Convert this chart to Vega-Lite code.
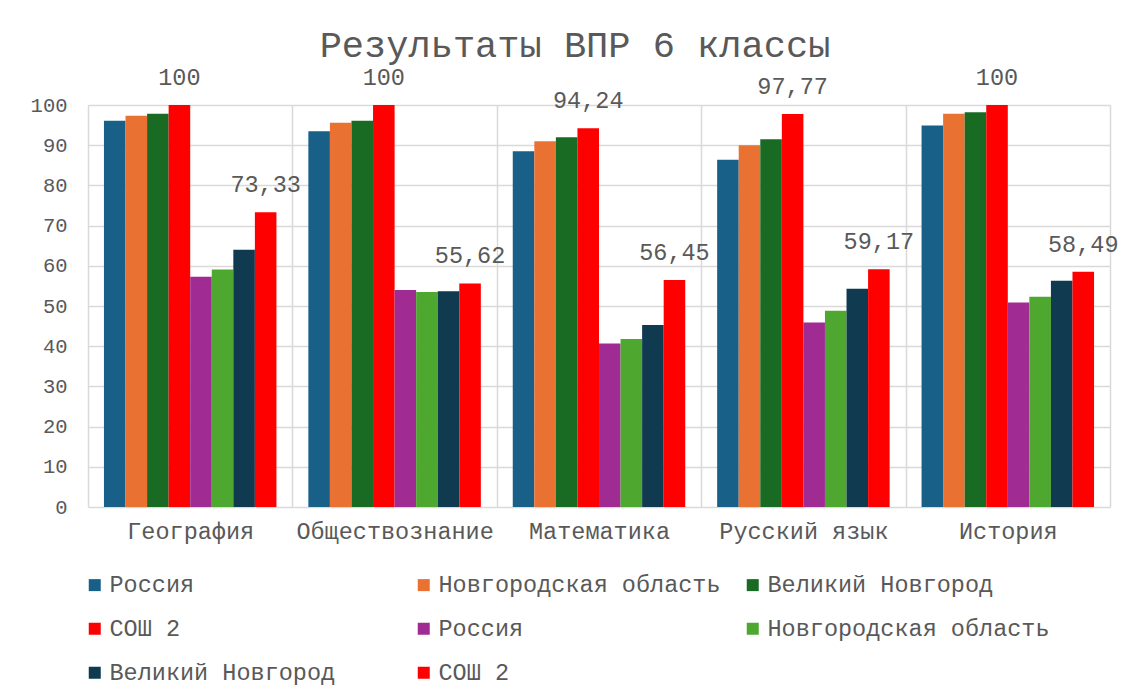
{
  "$schema": "https://vega.github.io/schema/vega-lite/v6.json",
  "width": 1022,
  "height": 402,
  "autosize": {"type": "none"},
  "padding": {"left": 88, "top": 105, "right": 21, "bottom": 193},
  "background": "white",
  "title": {
    "text": "Результаты ВПР 6 классы",
    "fontSize": 37,
    "font": "Liberation Mono",
    "fontWeight": "normal",
    "color": "#595959",
    "anchor": "middle",
    "dx": -24,
    "offset": 1
  },
  "config": {
    "locale": {"number": {"decimal": ",", "thousands": " ", "grouping": [3], "currency": ["", ""]}},
    "font": "Liberation Mono",
    "view": {"stroke": null}
  },
  "data": {
    "values": [
      {"subject": "География", "series": "1", "value": 96.1},
      {"subject": "География", "series": "2", "value": 97.3},
      {"subject": "География", "series": "3", "value": 97.8},
      {"subject": "География", "series": "4", "value": 100},
      {"subject": "География", "series": "5", "value": 57.3},
      {"subject": "География", "series": "6", "value": 59.1},
      {"subject": "География", "series": "7", "value": 64.0},
      {"subject": "География", "series": "8", "value": 73.33},
      {"subject": "Обществознание", "series": "1", "value": 93.5},
      {"subject": "Обществознание", "series": "2", "value": 95.6},
      {"subject": "Обществознание", "series": "3", "value": 96.1},
      {"subject": "Обществознание", "series": "4", "value": 100},
      {"subject": "Обществознание", "series": "5", "value": 54.0},
      {"subject": "Обществознание", "series": "6", "value": 53.5},
      {"subject": "Обществознание", "series": "7", "value": 53.7},
      {"subject": "Обществознание", "series": "8", "value": 55.62},
      {"subject": "Математика", "series": "1", "value": 88.5},
      {"subject": "Математика", "series": "2", "value": 91.0},
      {"subject": "Математика", "series": "3", "value": 92.0},
      {"subject": "Математика", "series": "4", "value": 94.24},
      {"subject": "Математика", "series": "5", "value": 40.7},
      {"subject": "Математика", "series": "6", "value": 41.8},
      {"subject": "Математика", "series": "7", "value": 45.3},
      {"subject": "Математика", "series": "8", "value": 56.45},
      {"subject": "Русский язык", "series": "1", "value": 86.4},
      {"subject": "Русский язык", "series": "2", "value": 90.0},
      {"subject": "Русский язык", "series": "3", "value": 91.5},
      {"subject": "Русский язык", "series": "4", "value": 97.77},
      {"subject": "Русский язык", "series": "5", "value": 45.9},
      {"subject": "Русский язык", "series": "6", "value": 48.8},
      {"subject": "Русский язык", "series": "7", "value": 54.3},
      {"subject": "Русский язык", "series": "8", "value": 59.17},
      {"subject": "История", "series": "1", "value": 94.9},
      {"subject": "История", "series": "2", "value": 97.8},
      {"subject": "История", "series": "3", "value": 98.2},
      {"subject": "История", "series": "4", "value": 100},
      {"subject": "История", "series": "5", "value": 50.9},
      {"subject": "История", "series": "6", "value": 52.3},
      {"subject": "История", "series": "7", "value": 56.3},
      {"subject": "История", "series": "8", "value": 58.49}
    ]
  },
  "encoding": {
    "x": {
      "field": "subject",
      "type": "nominal",
      "sort": ["География", "Обществознание", "Математика", "Русский язык", "История"],
      "scale": {"paddingInner": 0, "paddingOuter": 0},
      "axis": {
        "title": null,
        "labelAngle": 0,
        "labelFontSize": 23.5,
        "labelColor": "#595959",
        "labelPadding": 12,
        "labelLimit": 400,
        "ticks": false,
        "domain": false,
        "grid": true,
        "tickBand": "extent",
        "gridColor": "#d9d9d9",
        "gridWidth": 1.5
      }
    },
    "xOffset": {
      "field": "series",
      "type": "nominal",
      "scale": {"paddingInner": 0, "paddingOuter": 0.74}
    },
    "y": {
      "field": "value",
      "type": "quantitative",
      "scale": {"domain": [0, 100], "nice": false},
      "axis": {
        "title": null,
        "values": [0, 10, 20, 30, 40, 50, 60, 70, 80, 90, 100],
        "labelFontSize": 20.5,
        "labelColor": "#595959",
        "labelPadding": 21,
        "ticks": false,
        "domain": false,
        "gridColor": "#d9d9d9",
        "gridWidth": 1.5
      }
    }
  },
  "layer": [
    {
      "mark": {"type": "bar"},
      "encoding": {
        "color": {
          "field": "series",
          "type": "nominal",
          "scale": {
            "domain": ["1", "2", "3", "4", "5", "6", "7", "8"],
            "range": ["#196088", "#E97132", "#196B24", "#FF0000", "#A02B93", "#4EA72E", "#0F3A50", "#FF0000"]
          },
          "legend": {
            "title": null,
            "orient": "none",
            "legendX": -5,
            "legendY": 468,
            "direction": "horizontal",
            "columns": 3,
            "gridAlign": "all",
            "columnPadding": 20,
            "rowPadding": 19,
            "symbolType": "square",
            "symbolSize": 144,
            "symbolStrokeWidth": 0,
            "labelOffset": 3,
            "labelFontSize": 23.5,
            "labelColor": "#595959",
            "labelLimit": 400,
            "labelExpr": "['Россия','Новгородская область','Великий Новгород','СОШ 2','Россия','Новгородская область','Великий Новгород','СОШ 2'][toNumber(datum.label)-1]"
          }
        }
      }
    },
    {
      "transform": [{"filter": "datum.series == '4' || datum.series == '8'"}],
      "mark": {"type": "text", "baseline": "middle", "dy": -27, "fontSize": 23.5, "color": "#595959", "clip": false},
      "encoding": {
        "text": {"field": "value", "type": "quantitative", "format": ".4~r"}
      }
    }
  ]
}
